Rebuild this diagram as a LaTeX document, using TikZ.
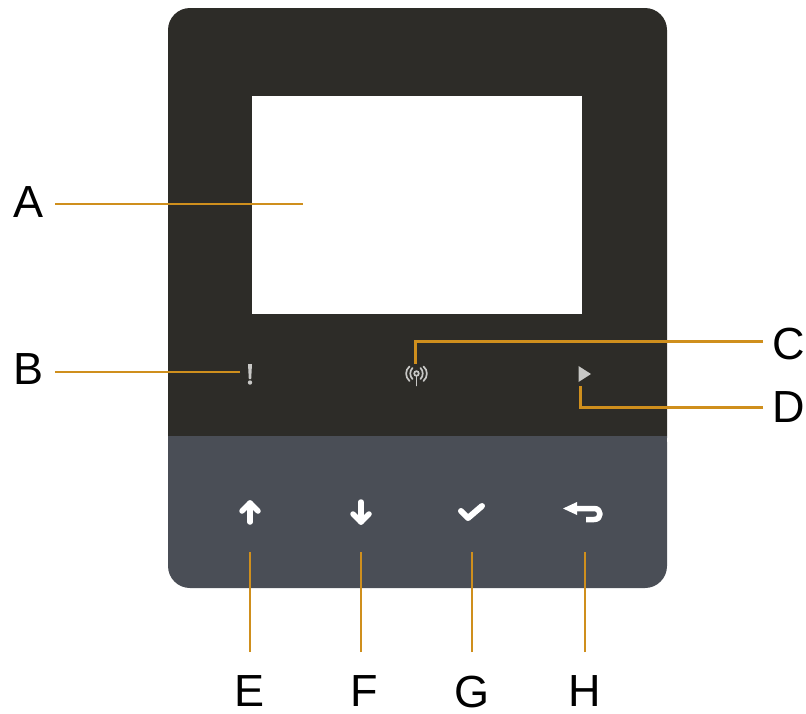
\documentclass[tikz,border=0pt]{standalone}
\usepackage{fontspec}
\setmainfont{Liberation Sans}
\definecolor{bodydark}{HTML}{2D2C28}
\definecolor{bodygrey}{HTML}{4A4E56}
\definecolor{leader}{HTML}{CF8F1D}
\definecolor{led}{HTML}{C8C8C6}
\tikzset{
  lab/.style={inner sep=0pt,font=\fontsize{45}{45}\selectfont,text=black,anchor=center},
  leadline/.style={draw=leader,line width=2.4pt},
  keyicon/.style={draw=white,line width=5.5pt,line cap=round,line join=round},
  ledicon/.style={draw=led,line width=1.7pt,line cap=round}
}
\begin{document}
\begin{tikzpicture}[x=1pt,y=-1pt]
\useasboundingbox (0,0) rectangle (806,713);
\fill[bodygrey,rounded corners=22pt] (168,420) -- (168,588) -- (667,588) -- (667,420) -- cycle;
\fill[bodydark,rounded corners=22pt] (168,460) -- (168,8) -- (667,8) -- (667,460) -- cycle;
\fill[bodygrey] (168,436) rectangle (667,480);
\fill[white] (252,96) rectangle (582,314);
% labels
\node[lab] (A) at (29,202) {A};
\node[lab] (B) at (29,369) {B};
\node[lab] (C) at (788.5,344) {C};
\node[lab] (D) at (788.5,407) {D};
\node[lab] (E) at (250,691.5) {E};
\node[lab] (F) at (364,691.5) {F};
\node[lab] (G) at (472,691.5) {G};
\node[lab] (H) at (585,691.5) {H};
% leader ends
\coordinate (a0) at (55,204); \coordinate (a1) at (303,204);
\coordinate (b0) at (55,372); \coordinate (b1) at (240,372);
\coordinate (c0) at (763,341.5); \coordinate (c1) at (415.5,364);
\coordinate (d0) at (763,407.5); \coordinate (d1) at (580.5,386);
\coordinate (e0) at (250,652); \coordinate (e1) at (250,552);
\coordinate (f0) at (361,652); \coordinate (f1) at (361,552);
\coordinate (g0) at (472,652); \coordinate (g1) at (472,552);
\coordinate (h0) at (585,652); \coordinate (h1) at (585,552);
\draw[leadline] (a0) -- (a1);
\draw[leadline] (b0) -- (b1);
\draw[leadline] (c0) -| (c1);
\draw[leadline] (d0) -| (d1);
\draw[leadline] (e0) -- (e1);
\draw[leadline] (f0) -- (f1);
\draw[leadline] (g0) -- (g1);
\draw[leadline] (h0) -- (h1);
% LED icons
\fill[led] (248,364) -- (252,364) -- (251.2,379) -- (248.8,379) -- cycle;
\fill[led] (250,382.5) circle (2.2);
\draw[ledicon] (416.5,373.5) circle (2.3);
\draw[ledicon] (416.5,376.5) -- (416.5,385.5);
\draw[ledicon] (412.5,368) .. controls (409.5,371) and (409.5,376) .. (412.5,379);
\draw[ledicon] (420.5,368) .. controls (423.5,371) and (423.5,376) .. (420.5,379);
\draw[ledicon] (409.5,366.5) .. controls (405,370) and (405,377) .. (409.5,381);
\draw[ledicon] (423.5,366.5) .. controls (428,370) and (428,377) .. (423.5,381);
\fill[led] (578.5,366) -- (591,374) -- (578.5,382) -- cycle;
% key icons
\draw[keyicon] (250,522) -- (250,503);
\draw[keyicon] (242,511) -- (250,503) -- (258,511);
\draw[keyicon] (361,502) -- (361,522);
\draw[keyicon] (353,514) -- (361,522) -- (369,514);
\draw[keyicon,line width=6pt] (461,511) -- (468,518) -- (482,506);
\fill[white] (563,508.5) -- (577,502) -- (577,515) -- cycle;
\draw[draw=white,line width=5.5pt,line join=round] (575,508.5) -- (594,508.5) .. controls (598,508.5) and (600,511) .. (600,514) .. controls (600,517) and (598,519.5) .. (594,519.5) -- (586,519.5);
\end{tikzpicture}
\end{document}
